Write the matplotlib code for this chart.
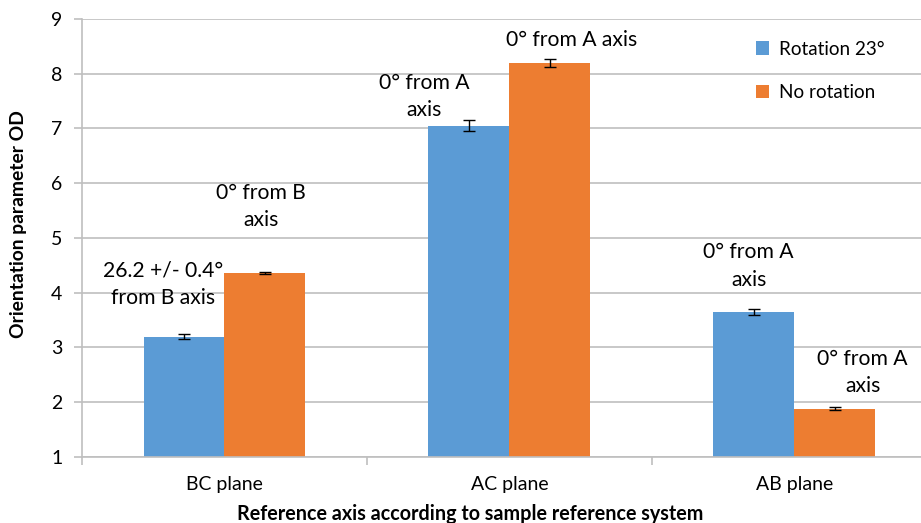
import numpy as np
import matplotlib
matplotlib.use('Agg')
import matplotlib.pyplot as plt
from matplotlib.ticker import FixedLocator, NullFormatter

plt.rcParams['font.family'] = ['Lato', 'DejaVu Sans']

# data
planes = ['BC plane', 'AC plane', 'AB plane']
series = ['Rotation 23°', 'No rotation']
rotation = [3.20, 7.05, 3.65]
rotation_err = [0.05, 0.10, 0.06]
no_rotation = [4.36, 8.20, 1.88]
no_rotation_err = [0.02, 0.07, 0.03]
rotation_notes = ['26.2 +/- 0.4°\nfrom B axis', '0° from A\naxis', '0° from A\naxis']
no_rotation_notes = ['0° from B\naxis', '0° from A axis', '0° from A\naxis']

BLUE = '#5b9bd5'
ORANGE = '#ed7d31'
GRID = '#bfbfbf'

fig = plt.figure(figsize=(9.21, 5.23), dpi=100)
ax = fig.add_axes([0.089, 0.1262, 0.928, 0.8375])

x = np.arange(len(planes))
w = 0.284
ax.bar(x - w / 2, rotation, w, color=BLUE, label=series[0], zorder=2)
ax.bar(x + w / 2, no_rotation, w, color=ORANGE, label=series[1], zorder=2)
ax.errorbar(x - w / 2, rotation, yerr=rotation_err, fmt='none', ecolor='black',
            elinewidth=1, capsize=4.3, capthick=1, zorder=3)
ax.errorbar(x + w / 2, no_rotation, yerr=no_rotation_err, fmt='none', ecolor='black',
            elinewidth=1, capsize=4.3, capthick=1, zorder=3)

# annotation placement: (dx from bar centre, dy from bar top)
rot_shift = [(-0.074, 0.96), (-0.158, 0.53), (-0.018, 0.84)]
norot_shift = [(-0.015, 1.22), (0.077, 0.425), (0.098, 0.67)]
for i in range(len(planes)):
    dx, dy = rot_shift[i]
    ax.text(x[i] - w / 2 + dx, rotation[i] + dy, rotation_notes[i],
            ha='center', va='center', fontsize=15.2, linespacing=1.45)
    dx, dy = norot_shift[i]
    ax.text(x[i] + w / 2 + dx, no_rotation[i] + dy, no_rotation_notes[i],
            ha='center', va='center', fontsize=15.2, linespacing=1.45)

ax.set_xlim(-0.5, 2.5)
ax.set_ylim(1, 9)
ax.set_yticks(np.arange(1, 10))
ax.yaxis.grid(True, color=GRID, linewidth=1.2, zorder=0)
ax.set_axisbelow(True)

ax.set_xticks(x)
ax.set_xticklabels(planes, fontsize=14)
ax.xaxis.set_minor_locator(FixedLocator([-0.5, 0.5, 1.5, 2.5]))
ax.xaxis.set_minor_formatter(NullFormatter())
ax.tick_params(axis='x', which='major', length=0, pad=14)
ax.tick_params(axis='x', which='minor', length=6, color=GRID, width=1.2)
ax.tick_params(axis='y', length=6, color=GRID, width=1.2, labelsize=14, pad=8)

for side in ['top', 'right']:
    ax.spines[side].set_visible(False)
for side in ['left', 'bottom']:
    ax.spines[side].set_color(GRID)
    ax.spines[side].set_linewidth(1.2)

ax.set_ylabel('Orientation parameter OD', fontsize=13.9, fontweight='bold')
ax.yaxis.set_label_coords(-0.0644, 0.532)
ax.set_xlabel('Reference axis according to sample reference system', fontsize=14.2,
              fontweight='bold')
ax.xaxis.set_label_coords(0.454, -0.108)

ax.legend(loc='upper left', bbox_to_anchor=(0.8026, 0.955), bbox_transform=fig.transFigure,
          frameon=False, fontsize=13.6, handlelength=0.7, handleheight=0.7,
          labelspacing=1.42, handletextpad=0.5)

fig.savefig('out.png', dpi=100)
